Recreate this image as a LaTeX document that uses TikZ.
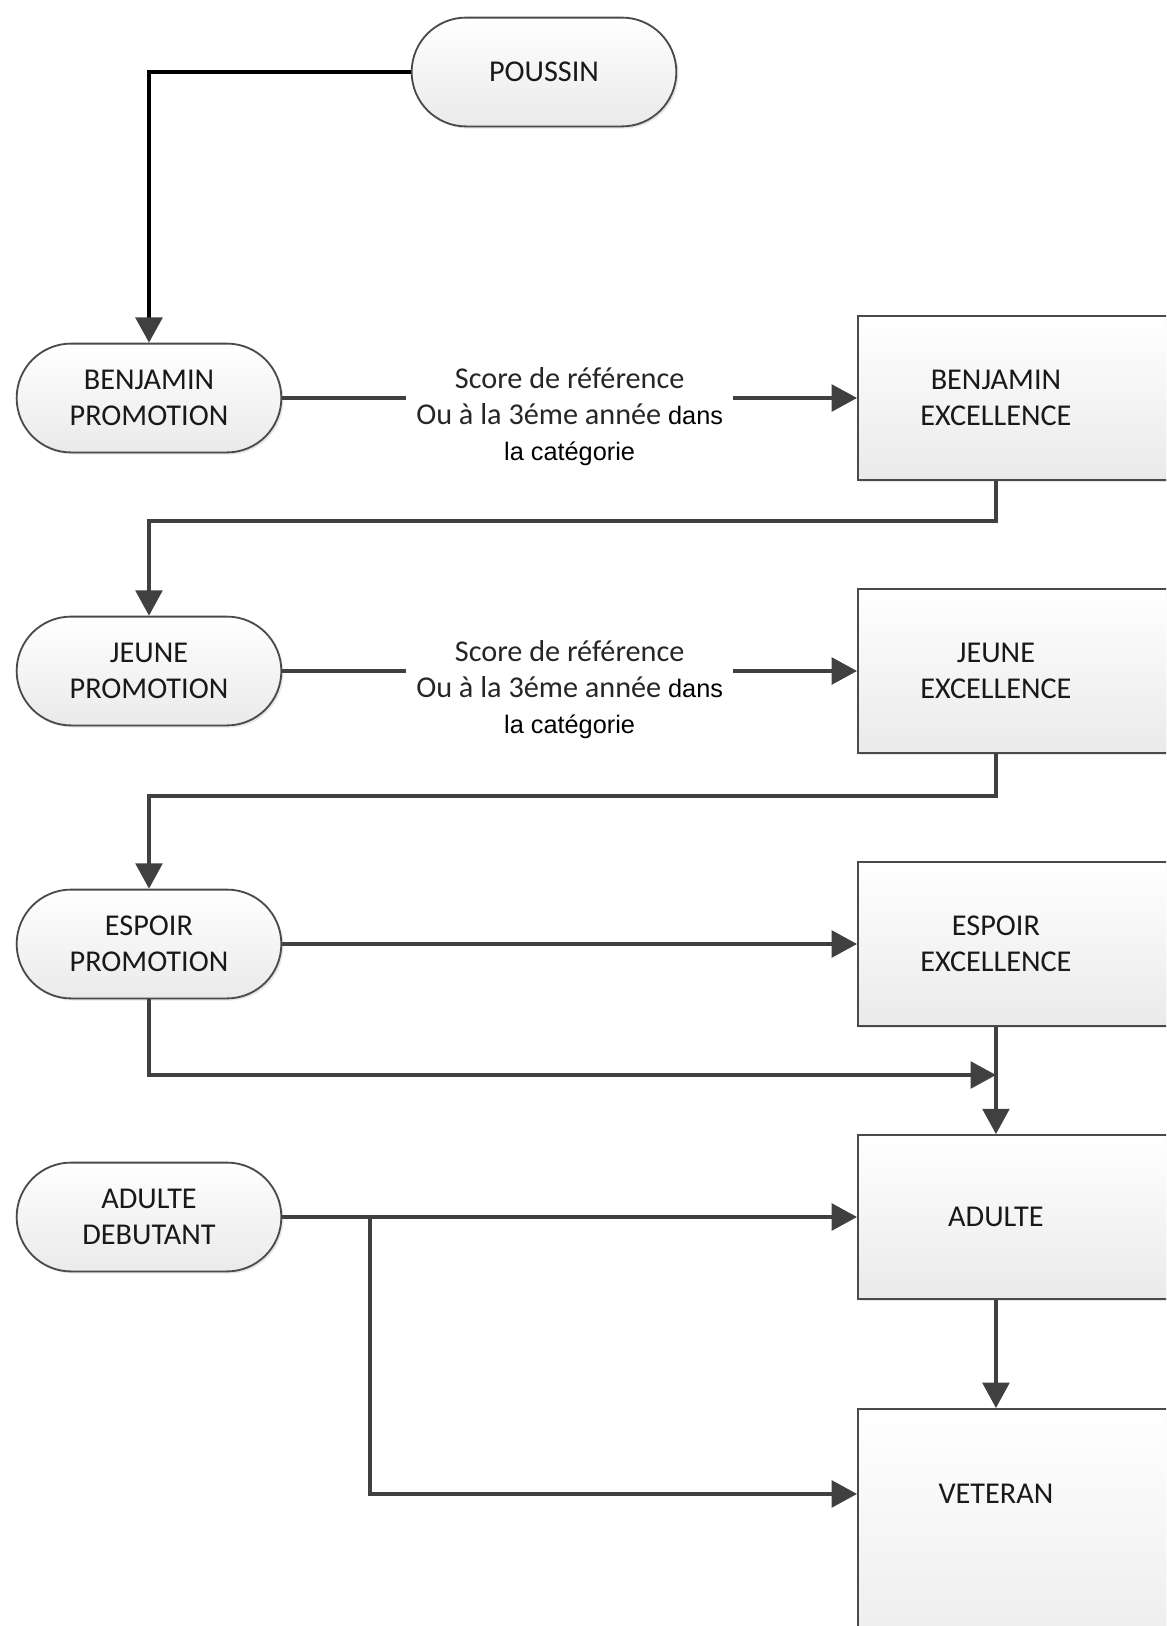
\documentclass[tikz,border=0pt]{standalone}
\usepackage{fontspec}
\setmainfont{Carlito}
\newfontfamily\arialfont{Liberation Sans}
\usepackage{xcolor}
\usepackage{tikz}
\usetikzlibrary{arrows.meta,positioning,shapes.misc,shadows,calc}

\definecolor{linegray}{HTML}{404040}
\definecolor{bordergray}{HTML}{4A4A4A}
\definecolor{fillgray}{HTML}{EAEAEA}
\newcommand{\boxfont}{\fontsize{21.5}{25.6}\selectfont}
\newcommand{\arl}{\arialfont\fontsize{18}{25.6}\selectfont\color{black}}

\tikzset{
  promo/.style={rounded rectangle, draw=bordergray, line width=1.3pt,
    top color=white, bottom color=fillgray, minimum width=6.85cm,
    minimum height=2.72cm, align=center, font=\boxfont, text=black!90,
    drop shadow={shadow xshift=1.5pt, shadow yshift=-1.5pt, opacity=0.2}},
  excel/.style={rectangle, draw=bordergray, line width=1.3pt,
    top color=white, bottom color=fillgray, minimum width=8.5cm,
    minimum height=4.1cm, anchor=west,
    drop shadow={shadow xshift=1.5pt, shadow yshift=-1.5pt, opacity=0.2}},
  exceltext/.style={align=center, font=\boxfont, text=black!90, xshift=-0.8cm},
  conn/.style={draw=linegray, line width=2.4pt, -{Triangle[length=18pt,width=19pt]}},
  lbl/.style={fill=white, align=center, inner xsep=0.25cm, inner ysep=2pt,
    font=\boxfont, text=black!85, yshift=-0.475cm}
}

\begin{document}
\begin{tikzpicture}[x=0.025cm, y=-0.025cm]
  \useasboundingbox (0,0) rectangle (1166,1626);
  \clip (0,0) rectangle (1166,1626); %方框右侧被裁掉
  % 左列
  \node[promo] (pou) at (544,72) {POUSSIN};
  \node[promo] (bp) at (149,398) {BENJAMIN\\PROMOTION};
  \node[promo] (jp) at (149,671) {JEUNE\\PROMOTION};
  \node[promo] (ep) at (149,944) {ESPOIR\\PROMOTION};
  \node[promo] (ad) at (149,1217) {ADULTE\\DEBUTANT};
  % 右列
  \node[excel, label={[exceltext, name=bet]center:BENJAMIN\\EXCELLENCE}] (be) at (857,398) {};
  \node[excel, label={[exceltext, name=jet]center:JEUNE\\EXCELLENCE}] (je) at (857,671) {};
  \node[excel, label={[exceltext, name=eet]center:ESPOIR\\EXCELLENCE}] (ee) at (857,944) {};
  \node[excel, label={[exceltext, name=adut]center:ADULTE}] (adu) at (857,1217) {};
  \node[excel, anchor=north west, minimum height=7cm,
    label={[exceltext, name=vett, yshift=1.375cm]center:VETERAN}] (vet) at (857,1408) {};
  \coordinate (join) at (eet |- 0,1075);
  \coordinate (split) at (370,1217);

  \draw[line width=2.8pt, black, -{Triangle[length=18pt,width=19pt,color=linegray]}] (pou.west) -| (bp.north);
  \draw[conn] (bp.east) -- node[lbl] {Score de référence\\Ou à la 3éme année {\arl dans}\\{\arl la catégorie}} (be.west);
  \draw[conn] (bet |- be.south) -- ++(0,40) -| (jp.north);
  \draw[conn] (jp.east) -- node[lbl] {Score de référence\\Ou à la 3éme année {\arl dans}\\{\arl la catégorie}} (je.west);
  \draw[conn] (jet |- je.south) -- ++(0,42) -| (ep.north);
  \draw[conn] (ep.east) -- (ee.west);
  \draw[conn] (ep.south) |- (join);
  \draw[conn] (eet |- ee.south) -- (adut |- adu.north);
  \draw[conn] (ad.east) -- (adu.west);
  \draw[conn] (split) |- (vet.west |- vett);
  \draw[conn] (adut |- adu.south) -- (vett |- vet.north);
\end{tikzpicture}
\end{document}
